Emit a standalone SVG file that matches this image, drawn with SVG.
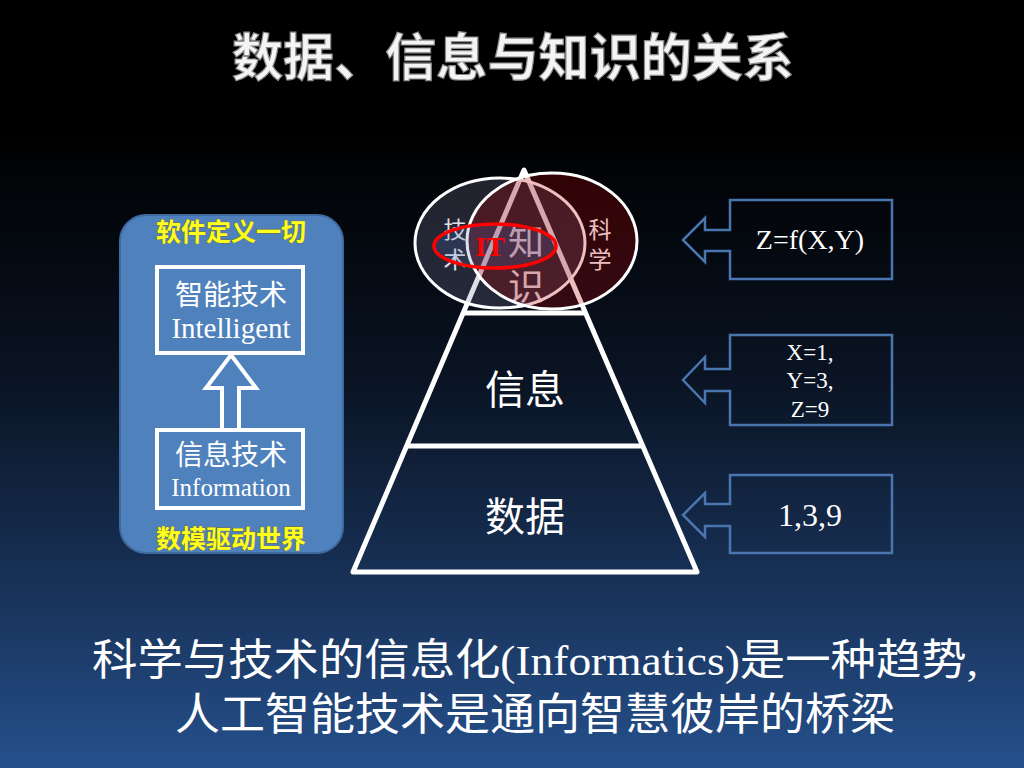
<svg xmlns="http://www.w3.org/2000/svg" width="1024" height="768" viewBox="0 0 1024 768">
<defs>
<linearGradient id="bg" x1="0" y1="0" x2="0" y2="1">
<stop offset="0" stop-color="#000000"/>
<stop offset="0.17" stop-color="#000000"/>
<stop offset="0.5" stop-color="#0a1424"/>
<stop offset="0.8" stop-color="#1a365f"/>
<stop offset="1" stop-color="#25508c"/>
</linearGradient>
<style>
.cjk{font-family:"Noto Sans CJK SC","Noto Sans",sans-serif;}
.ser{font-family:"Liberation Serif","Times New Roman",serif;}
.wt{fill:#ffffff;}
.yl{fill:#ffff1a;stroke:#6f6f3a;stroke-width:0.8;paint-order:stroke;font-weight:bold;font-size:25px;}
.box{fill:#4f81bd;stroke:#ffffff;stroke-width:4;}
.callout{fill:none;stroke:#4a76b0;stroke-width:2.5;}
.pyr{fill:none;stroke:#ffffff;stroke-width:5;stroke-linejoin:round;}
</style>
</defs>
<rect x="0" y="0" width="1024" height="768" fill="url(#bg)"/>

<g id="title">
<text x="513" y="76" text-anchor="middle" class="cjk" font-size="51" font-weight="bold" fill="#f4f4f4" stroke="#8a8a8a" stroke-width="1.2" textLength="562" lengthAdjust="spacingAndGlyphs">数据、信息与知识的关系</text>
</g>

<g id="pyramid">
<path class="pyr" d="M524,170 L697,572 L353,572 Z"/>
<line class="pyr" x1="406" y1="446" x2="642" y2="446"/>
<line class="pyr" x1="465" y1="313" x2="584" y2="313"/>
</g>

<g id="knowledge">
<text x="455" y="238" text-anchor="middle" class="cjk wt" font-size="23">技</text>
<text x="455" y="268" text-anchor="middle" class="cjk wt" font-size="23">术</text>
<text x="600" y="238" text-anchor="middle" class="cjk wt" font-size="23">科</text>
<text x="600" y="268" text-anchor="middle" class="cjk wt" font-size="23">学</text>
<text x="526" y="255" text-anchor="middle" class="cjk wt" font-size="36">知</text>
<text x="526" y="300" text-anchor="middle" class="cjk wt" font-size="36">识</text>
<ellipse cx="500" cy="243" rx="85" ry="65" fill="#8080a0" fill-opacity="0.25" stroke="#ffffff" stroke-width="3"/>
<ellipse cx="552" cy="241" rx="85" ry="68" fill="#c00000" fill-opacity="0.25" stroke="#ffffff" stroke-width="3"/>
<ellipse cx="495" cy="246" rx="61" ry="22" fill="#5078c8" fill-opacity="0.2" stroke="#ff0000" stroke-width="3.5"/>
<text x="490" y="256" text-anchor="middle" class="ser" font-size="28" font-weight="bold" fill="#ff0000">IT</text>
</g>

<g id="information">
<text x="525" y="404" text-anchor="middle" class="cjk wt" font-size="40">信息</text>
</g>

<g id="data">
<text x="525" y="531" text-anchor="middle" class="cjk wt" font-size="40">数据</text>
</g>

<g id="panel">
<rect x="120" y="215" width="223" height="338" rx="26" fill="#4f81bd" stroke="#3e6aa0" stroke-width="2"/>
<text x="231" y="241" text-anchor="middle" class="cjk yl">软件定义一切</text>
<text x="231" y="548" text-anchor="middle" class="cjk yl">数模驱动世界</text>
</g>

<g id="intelligent">
<rect class="box" x="157" y="267" width="146" height="86"/>
<text x="231" y="305" text-anchor="middle" class="cjk wt" font-size="28">智能技术</text>
<text x="231" y="338" text-anchor="middle" class="ser wt" font-size="29">Intelligent</text>
</g>

<g id="infotech">
<rect class="box" x="157" y="430" width="146" height="78"/>
<text x="231" y="465" text-anchor="middle" class="cjk wt" font-size="28">信息技术</text>
<text x="231" y="496" text-anchor="middle" class="ser wt" font-size="25">Information</text>
</g>

<g id="connectors">
<path class="box" d="M231,355 L256,388 H239 V430 H222 V388 H206 Z" stroke-linejoin="miter"/>
</g>

<g id="callout-knowledge">
<path class="callout" d="M730,200 H892 V279 H730 V251 H705 V262 L683,240 L705,218 V230 H730 Z"/>
<text x="810" y="249" text-anchor="middle" class="ser wt" font-size="28">Z=f(X,Y)</text>
</g>

<g id="callout-information">
<path class="callout" d="M730,335 H892 V425 H730 V391 H705 V403 L683,380 L705,357 V369 H730 Z"/>
<text x="810" y="360" text-anchor="middle" class="ser wt" font-size="23">X=1,</text>
<text x="810" y="388" text-anchor="middle" class="ser wt" font-size="23">Y=3,</text>
<text x="810" y="417" text-anchor="middle" class="ser wt" font-size="23">Z=9</text>
</g>

<g id="callout-data">
<path class="callout" d="M730,475 H892 V553 H730 V526 H705 V537 L683,515 L705,493 V504 H730 Z"/>
<text x="810" y="526" text-anchor="middle" class="ser wt" font-size="32">1,3,9</text>
</g>

<g id="caption">
<text x="535" y="675" text-anchor="middle" class="cjk wt" font-size="43" textLength="886" lengthAdjust="spacingAndGlyphs">科学与技术的信息化<tspan class="ser">(Informatics)</tspan>是一种趋势<tspan class="ser">,</tspan></text>
<text x="535" y="730" text-anchor="middle" class="cjk wt" font-size="44" textLength="720" lengthAdjust="spacingAndGlyphs">人工智能技术是通向智慧彼岸的桥梁</text>
</g>
</svg>
